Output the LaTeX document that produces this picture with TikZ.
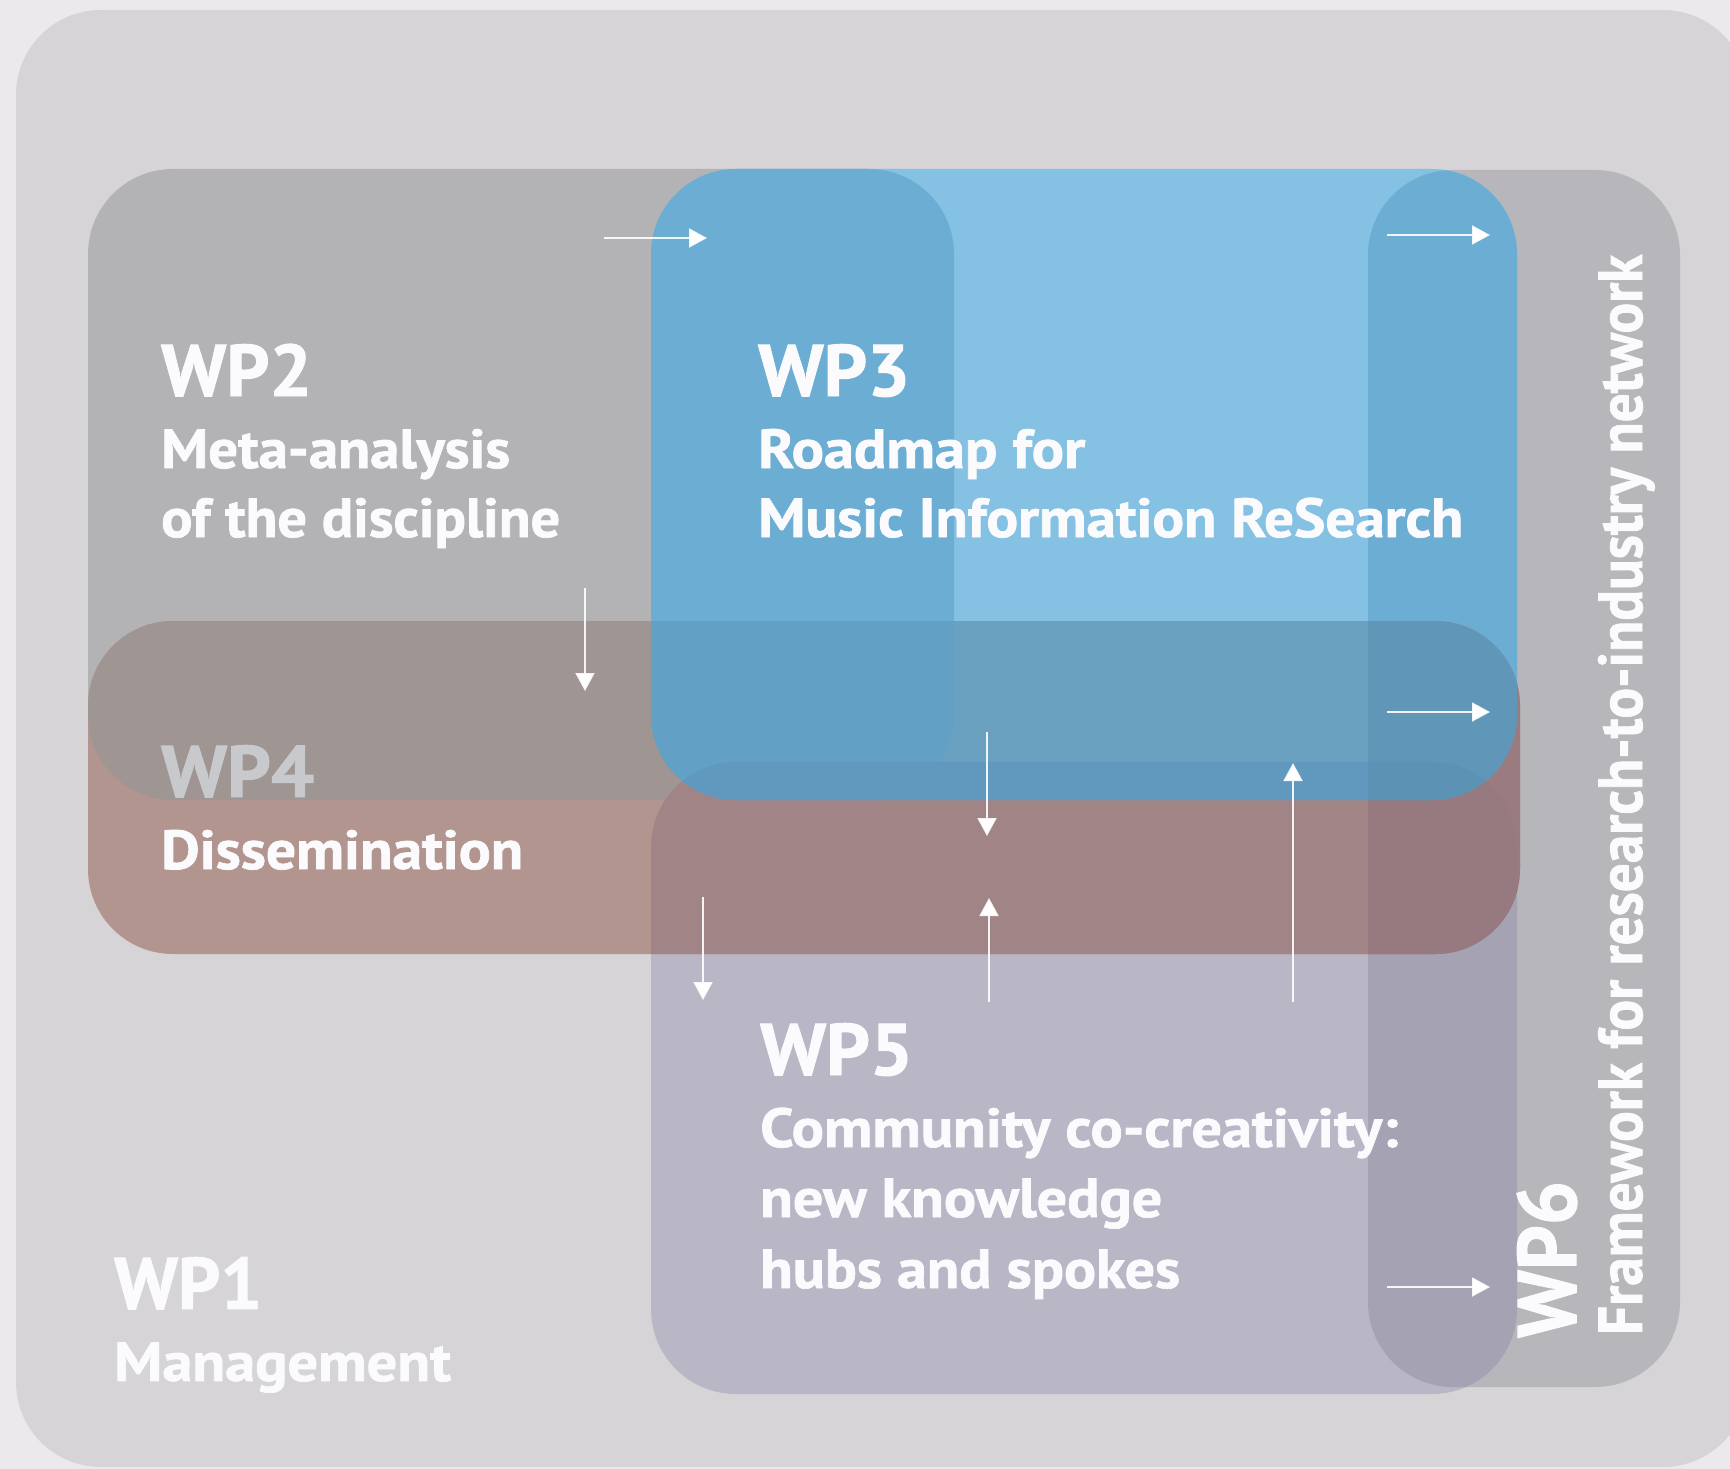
\documentclass[tikz,border=0pt]{standalone}
\usepackage{fontspec}
\setmainfont{PT Sans}
\newfontfamily\lblfont[BoldFeatures={FakeBold=1.3}]{PT Sans}
\usepackage{graphicx}
\usetikzlibrary{arrows.meta}

\definecolor{pagebg}{HTML}{EBE9EB}
\definecolor{cA}{HTML}{D6D4D7}
\definecolor{cB}{HTML}{B3B3B5}
\definecolor{cF}{HTML}{B7B6BA}
\definecolor{cC}{HTML}{85C1E2}
\definecolor{cBC}{HTML}{6CAED3}
\definecolor{cE}{HTML}{B9B6C6}
\definecolor{cEF}{HTML}{A5A2B4}
\definecolor{cD}{HTML}{B39590}
\definecolor{cDB}{HTML}{9F9592}
\definecolor{cDC}{HTML}{6AA0C0}
\definecolor{cDE}{HTML}{A18586}
\definecolor{cDF}{HTML}{997B80}
\definecolor{cDCB}{HTML}{63A0C6}
\definecolor{cDCE}{HTML}{6099BD}
\definecolor{cDCF}{HTML}{6096B7}
\definecolor{cDEF}{HTML}{967A80}
\definecolor{cDCEF}{HTML}{5C93B4}
\definecolor{wpfourtitle}{HTML}{C8C9CD}
\definecolor{txt}{HTML}{FBFBFD}

\newcommand{\fitw}[3]{\resizebox{#1pt}{\height}{\fontsize{#2}{#2}\lblfont\bfseries #3}}

\tikzset{
  rc/.style={rounded corners=85pt},
  pA/.style={insert path={(16,10) rectangle (1748,1467)}},
  pB/.style={insert path={(88,169) rectangle (954,800)}},
  pC/.style={insert path={(651,169) rectangle (1517,800)}},
  pD/.style={insert path={(88,621) rectangle (1520,954)}},
  pE/.style={insert path={(651,762) rectangle (1517,1394)}},
  pF/.style={insert path={(1368,170) rectangle (1680,1387)}},
  flow/.style={draw=white, draw opacity=0.9, line width=2pt, -{Triangle[length=18pt,width=19pt]}},
  lbl/.style={anchor=base west, inner sep=0pt, text=txt},
}

\begin{document}
\begin{tikzpicture}[x=1pt, y=-1pt]
\useasboundingbox (0,0) rectangle (1730,1469);
\clip (0,0) rectangle (1730,1469);
\fill[pagebg] (0,0) rectangle (1730,1469);
% WP1
\fill[cA, rc, pA];
% WP2, WP6, WP3
\fill[cB, rc, pB];
\fill[cF, rc, pF];
\fill[cC, rc, pC];
\begin{scope}
  \clip[rc, pC];
  \fill[cBC, rc, pB];
  \fill[cBC, rc, pF];
\end{scope}
% WP5
\fill[cE, rc, pE];
\begin{scope}
  \clip[rc, pE];
  \fill[cEF, rc, pF];
\end{scope}
% WP4
\fill[cD, rc, pD];
\begin{scope}
  \clip[rc, pD];
  \fill[cDB, rc, pB];
  \fill[cDE, rc, pE];
  \fill[cDF, rc, pF];
  \fill[cDC, rc, pC];
  \begin{scope}
    \clip[rc, pE];
    \fill[cDEF, rc, pF];
  \end{scope}
  \begin{scope}
    \clip[rc, pC];
    \fill[cDCB, rc, pB];
    \fill[cDCF, rc, pF];
    \fill[cDCE, rc, pE];
    \begin{scope}
      \clip[rc, pE];
      \fill[cDCEF, rc, pF];
    \end{scope}
  \end{scope}
\end{scope}

% labels
\node[lbl] (wp2t) at (161,396) {\fitw{151}{73}{WP2}};
\node[lbl] (wp2a) at (161,468) {\fitw{349}{55}{Meta-analysis}};
\node[lbl] (wp2b) at (161,537) {\fitw{399}{55}{of the discipline}};

\node[lbl] (wp3t) at (758,396) {\fitw{152}{73}{WP3}};
\node[lbl] (wp3a) at (758,468) {\fitw{327}{55}{Roadmap for}};
\node[lbl] (wp3b) at (758,537) {\fitw{705}{55}{Music Information ReSearch}};

\node[lbl, text=wpfourtitle] (wp4t) at (161,797) {\fitw{153}{73}{WP4}};
\node[lbl] (wp4a) at (161,869) {\fitw{362}{55}{Dissemination}};

\node[lbl] (wp5t) at (760,1075) {\fitw{153}{73}{WP5}};
\node[lbl] (wp5a) at (760,1147) {\fitw{638}{55}{Community co-creativity:}};
\node[lbl] (wp5b) at (760,1217) {\fitw{402}{55}{new knowledge}};
\node[lbl] (wp5c) at (760,1288) {\fitw{420}{55}{hubs and spokes}};

\node[lbl] (wp1t) at (114,1309) {\fitw{148}{73}{WP1}};
\node[lbl] (wp1a) at (114,1381) {\fitw{337}{55}{Management}};

\node[lbl, rotate=90] (wp6t) at (1576,1338) {\fitw{157}{83}{WP6}};
\node[lbl, rotate=90] (wp6a) at (1642,1335) {\fitw{1080}{62}{Framework for research-to-industry network}};

% arrows
\coordinate (a1s) at (604,238);  \coordinate (a1e) at (707,238);
\coordinate (a2s) at (1387,235); \coordinate (a2e) at (1490,235);
\coordinate (a3s) at (1387,712); \coordinate (a3e) at (1490,712);
\coordinate (a4s) at (1387,1287);\coordinate (a4e) at (1490,1287);
\coordinate (a5s) at (585,588);  \coordinate (a5e) at (585,691);
\coordinate (a6s) at (703,897);  \coordinate (a6e) at (703,1000);
\coordinate (a7s) at (987,732);  \coordinate (a7e) at (987,836);
\coordinate (a8s) at (989,1002); \coordinate (a8e) at (989,898);
\coordinate (a9s) at (1293,1002);\coordinate (a9e) at (1293,763);
\foreach \i in {1,...,9} { \draw[flow] (a\i s) -- (a\i e); }
\end{tikzpicture}
\end{document}
